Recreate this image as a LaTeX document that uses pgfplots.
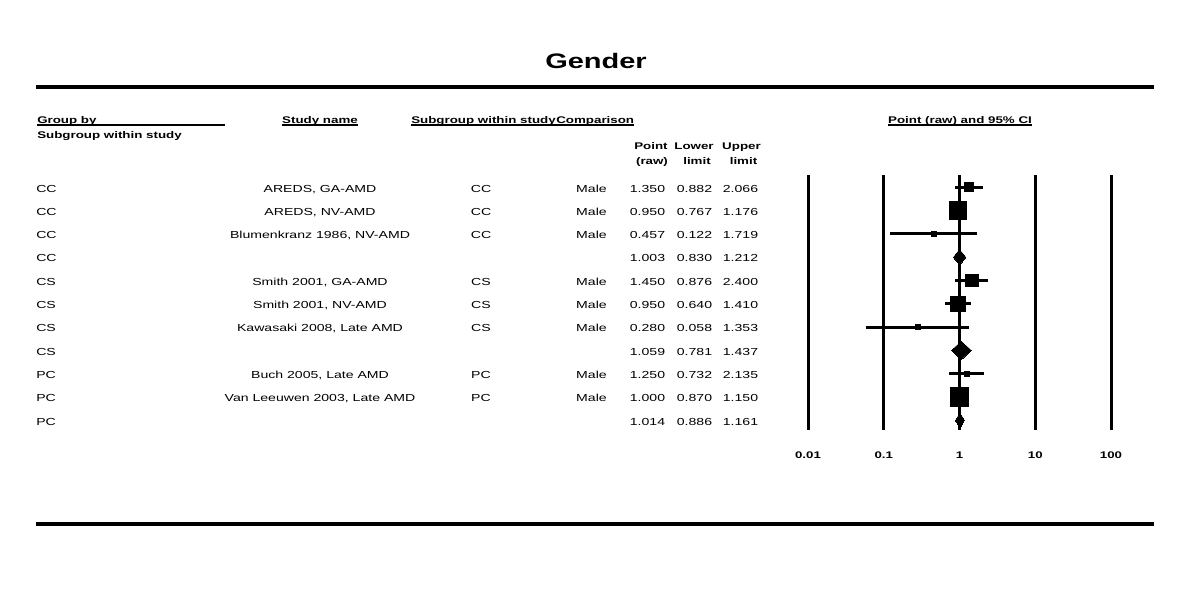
\documentclass[border=0pt]{standalone}
\usepackage{fontspec}
\setmainfont{Liberation Sans}[FakeStretch=1.38]
\usepackage{pgfplots}
\pgfplotsset{compat=1.18}
\begin{document}
\begin{tikzpicture}
\begin{scope}[x=0.75pt,y=-0.75pt,
  body/.style={inner sep=0pt, font=\fontsize{7.65}{9}\selectfont},
  hdr/.style={inner sep=0pt, font=\bfseries\fontsize{7.25}{9}\selectfont}]
\useasboundingbox[fill=white] (0,0) rectangle (1200,596);
% title and rules
\node[inner sep=0pt, anchor=base, font=\bfseries\fontsize{15.75}{18}\selectfont] at (596,68) {Gender};
\draw[line width=3pt] (36,87) -- (1154,87);
\draw[line width=3pt] (36,524) -- (1154,524);
% headers
\node[hdr, anchor=base west] at (37,123) {Group by};
\draw[line width=1.2pt] (37,125) -- (225,125);
\node[hdr, anchor=base west] at (37,138) {Subgroup within study};
\node[hdr, anchor=base] (h2) at (320,123) {Study name};
\node[hdr, anchor=base west] (h3) at (411,123) {Subgroup within study};
\node[hdr, anchor=base west] (h4) at (h3.base east) {Comparison};
\node[hdr, anchor=base] (h5) at (960,123) {Point (raw) and 95\% CI};
\foreach \n in {h2,h3,h4,h5}{
  \draw[line width=1.2pt] ([yshift=-1.5pt]\n.base west) -- ([yshift=-1.5pt]\n.base east);
}
\node[hdr, anchor=base] at (651,149) {Point};
\node[hdr, anchor=base] at (652,164) {(raw)};
\node[hdr, anchor=base] at (694,149) {Lower};
\node[hdr, anchor=base] at (697,164) {limit};
\node[hdr, anchor=base] at (741.5,149) {Upper};
\node[hdr, anchor=base] at (743.5,164) {limit};
% data rows text
\foreach \i/\a/\b/\c/\d/\p/\l/\u in {
  1/CC/{AREDS, GA-AMD}/CC/Male/1.350/0.882/2.066,
  2/CC/{AREDS, NV-AMD}/CC/Male/0.950/0.767/1.176,
  3/CC/{Blumenkranz 1986, NV-AMD}/CC/Male/0.457/0.122/1.719,
  4/CC/{}/{}/{}/1.003/0.830/1.212,
  5/CS/{Smith 2001, GA-AMD}/CS/Male/1.450/0.876/2.400,
  6/CS/{Smith 2001, NV-AMD}/CS/Male/0.950/0.640/1.410,
  7/CS/{Kawasaki 2008, Late AMD}/CS/Male/0.280/0.058/1.353,
  8/CS/{}/{}/{}/1.059/0.781/1.437,
  9/PC/{Buch 2005, Late AMD}/PC/Male/1.250/0.732/2.135,
  10/PC/{Van Leeuwen 2003, Late AMD}/PC/Male/1.000/0.870/1.150,
  11/PC/{}/{}/{}/1.014/0.886/1.161}{
  \pgfmathsetmacro\yy{192+(\i-1)*23.3}
  \node[body, anchor=base west] at (36,\yy) {\a};
  \node[body, anchor=base] at (320,\yy) {\b};
  \node[body, anchor=base] at (481,\yy) {\c};
  \node[body, anchor=base east] at (607,\yy) {\d};
  \node[body, anchor=base] at (647.5,\yy) {\p};
  \node[body, anchor=base] at (694.5,\yy) {\l};
  \node[body, anchor=base] at (740.5,\yy) {\u};
}
\end{scope}
\begin{axis}[at={(719.625pt,-226.875pt)}, anchor=center,
  scale only axis, width=227.25pt, height=191.25pt,
  xmode=log, xmin=0.01, xmax=100, ymin=0.472, ymax=11.417, y dir=reverse,
  axis line style={draw=none}, ytick=\empty,
  xtick={0.01,0.1,1,10,100}, xticklabels={0.01,0.1,1,10,100},
  minor xtick={}, major tick length=0pt, minor tick length=0pt,
  xmajorgrids, grid style={black, line width=2.25pt},
  xticklabel style={font=\bfseries\fontsize{7.2}{8}\selectfont, anchor=base, yshift=-21pt, inner sep=0pt},
  clip=false]
% CI lines
\addplot[black, line width=2.25pt] coordinates {(0.882,1) (2.066,1)};
\addplot[black, line width=2.25pt] coordinates {(0.767,2) (1.176,2)};
\addplot[black, line width=2.25pt] coordinates {(0.122,3) (1.719,3)};
\addplot[black, line width=2.25pt] coordinates {(0.876,5) (2.400,5)};
\addplot[black, line width=2.25pt] coordinates {(0.640,6) (1.410,6)};
\addplot[black, line width=2.25pt] coordinates {(0.058,7) (1.353,7)};
\addplot[black, line width=2.25pt] coordinates {(0.732,9) (2.135,9)};
\addplot[black, line width=2.25pt] coordinates {(0.870,10) (1.150,10)};
% point squares
\addplot[black, only marks, mark=square*, mark size=3.4pt, mark options={line width=0pt}] coordinates {(1.350,1)};
\addplot[black, only marks, mark=square*, mark size=6.6pt, mark options={line width=0pt}] coordinates {(0.950,2)};
\addplot[black, only marks, mark=square*, mark size=1.9pt, mark options={line width=0pt}] coordinates {(0.457,3)};
\addplot[black, only marks, mark=square*, mark size=4.75pt, mark options={line width=0pt}] coordinates {(1.450,5)};
\addplot[black, only marks, mark=square*, mark size=5.75pt, mark options={line width=0pt}] coordinates {(0.950,6)};
\addplot[black, only marks, mark=square*, mark size=1.9pt, mark options={line width=0pt}] coordinates {(0.280,7)};
\addplot[black, only marks, mark=square*, mark size=1.9pt, mark options={line width=0pt}] coordinates {(1.250,9)};
\addplot[black, only marks, mark=square*, mark size=7.0pt, mark options={line width=0pt}] coordinates {(1.000,10)};
% summary diamonds
\addplot[black, fill=black, line width=0pt] coordinates {(0.830,4) (1.003,3.665) (1.212,4) (1.003,4.335) (0.830,4)};
\addplot[black, fill=black, line width=0pt] coordinates {(0.781,8) (1.059,7.61) (1.437,8) (1.059,8.39) (0.781,8)};
\addplot[black, fill=black, line width=0pt] coordinates {(0.886,11) (1.014,10.68) (1.161,11) (1.014,11.32) (0.886,11)};
\end{axis}
\end{tikzpicture}
\end{document}
